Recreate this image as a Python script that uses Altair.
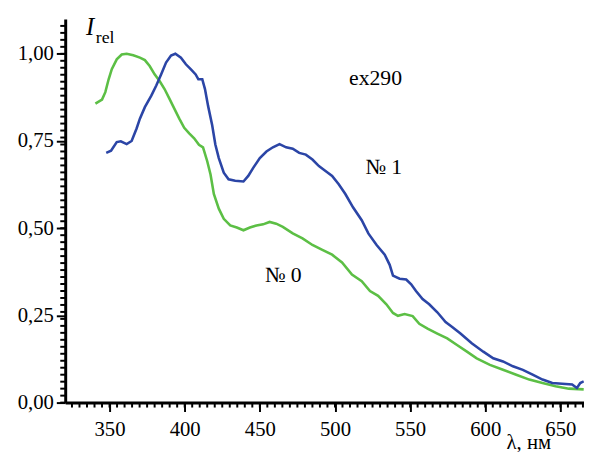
import altair as alt
import pandas as pd

# ---- data ----
blue_wl = [347.8, 351.0, 354.8, 357.5, 361.4, 364.7, 368.0, 370.2, 373.5, 377.8,
           381.1, 384.3, 387.6, 390.9, 393.8, 397.5, 400.8, 404.0, 407.3, 409.1,
           411.7, 413.5, 415.6, 418.3, 420.4, 422.7, 426.0, 429.2, 433.6, 439.1,
           442.3, 445.6, 450.0, 454.4, 458.7, 463.1, 467.5, 471.9, 476.2, 480.6,
           485.0, 489.3, 493.7, 498.1, 502.5, 506.9, 512.0, 517.8, 522.2, 527.7,
           533.1, 536.4, 538.6, 543.0, 547.4, 550.7, 553.9, 558.3, 562.7, 568.1,
           573.6, 578.0, 583.5, 591.0, 598.7, 605.3, 611.8, 618.4, 625.0, 631.5,
           638.1, 644.6, 651.2, 657.8, 661.0, 663.2, 665.5]
blue_i = [0.716, 0.722, 0.747, 0.749, 0.741, 0.750, 0.786, 0.814, 0.847, 0.880,
          0.909, 0.941, 0.975, 0.995, 1.000, 0.989, 0.970, 0.956, 0.941, 0.927,
          0.927, 0.899, 0.850, 0.795, 0.740, 0.701, 0.659, 0.640, 0.636, 0.634,
          0.650, 0.673, 0.701, 0.720, 0.732, 0.741, 0.732, 0.728, 0.716, 0.711,
          0.697, 0.678, 0.664, 0.650, 0.626, 0.598, 0.560, 0.523, 0.485, 0.452,
          0.424, 0.395, 0.364, 0.355, 0.353, 0.339, 0.320, 0.297, 0.282, 0.259,
          0.231, 0.217, 0.198, 0.170, 0.146, 0.127, 0.118, 0.104, 0.094, 0.080,
          0.066, 0.056, 0.054, 0.052, 0.042, 0.056, 0.061]

green_wl = [340.6, 345.0, 347.2, 349.4, 351.5, 354.8, 358.1, 361.4, 365.8, 370.2,
            373.5, 376.7, 380.0, 383.3, 386.6, 389.9, 393.1, 396.4, 399.7, 403.0,
            406.3, 409.5, 412.2, 415.0, 417.2, 419.4, 422.7, 426.0, 430.3, 434.7,
            439.1, 443.4, 447.8, 452.2, 456.5, 460.9, 465.3, 471.9, 478.4, 485.0,
            491.6, 498.1, 504.7, 511.3, 517.8, 523.3, 528.7, 534.2, 538.6, 541.9,
            546.3, 551.7, 556.1, 561.6, 568.1, 574.7, 581.2, 587.8, 594.3, 603.1,
            611.8, 620.6, 629.3, 638.1, 646.8, 655.6, 665.5]
green_i = [0.857, 0.869, 0.890, 0.927, 0.956, 0.984, 0.998, 1.000, 0.996, 0.989,
           0.982, 0.965, 0.941, 0.922, 0.899, 0.871, 0.843, 0.814, 0.788, 0.772,
           0.758, 0.739, 0.732, 0.692, 0.654, 0.598, 0.556, 0.527, 0.508, 0.502,
           0.494, 0.502, 0.508, 0.511, 0.518, 0.513, 0.504, 0.485, 0.471, 0.452,
           0.438, 0.424, 0.402, 0.367, 0.348, 0.320, 0.306, 0.282, 0.257, 0.249,
           0.254, 0.248, 0.226, 0.212, 0.198, 0.184, 0.165, 0.146, 0.127, 0.108,
           0.094, 0.080, 0.066, 0.056, 0.047, 0.040, 0.038]

series_names = ["№ 0", "№ 1"]
series_colors = ["#5cbf45", "#2b45a6"]

x_major = [350, 400, 450, 500, 550, 600, 650]
y_major = [0.0, 0.25, 0.5, 0.75, 1.0]
x_minor = list(range(325, 666, 5))
y_minor = [round(0.02 * k, 2) for k in range(0, 55)]

annot_text = ["ex290", "№ 1", "№ 0"]
annot_wl = [527.0, 532.4, 465.5]
annot_i = [0.91, 0.655, 0.345]

X_DOMAIN = [320.5, 665.7]
Y_DOMAIN = [0.0, 1.1]
W, H = 526, 389
FONT = "Liberation Serif"

df = pd.concat([
    pd.DataFrame({"wl": green_wl, "I": green_i, "s": series_names[0]}),
    pd.DataFrame({"wl": blue_wl, "I": blue_i, "s": series_names[1]}),
])

xs = alt.Scale(domain=X_DOMAIN, nice=False, zero=False)
ys = alt.Scale(domain=Y_DOMAIN, nice=False, zero=False)

lines = alt.Chart(df).mark_line(strokeWidth=2.6, interpolate="linear").encode(
    x=alt.X("wl:Q", scale=xs, axis=alt.Axis(values=x_major, title=None, labelPadding=7)),
    y=alt.Y("I:Q", scale=ys, axis=alt.Axis(
        values=y_major, title=None, labelPadding=3,
        labelExpr="replace(format(datum.value, '.2f'), '.', ',')")),
    color=alt.Color("s:N", scale=alt.Scale(domain=series_names, range=series_colors), legend=None),
    detail="s:N",
)

xminor = alt.Chart(pd.DataFrame({"v": x_minor})).mark_rule(
    color="black", strokeWidth=2).encode(
    x=alt.X("v:Q", scale=xs), y=alt.value(H), y2=alt.value(H + 5))

yminor = alt.Chart(pd.DataFrame({"v": y_minor})).mark_rule(
    color="black", strokeWidth=2).encode(
    y=alt.Y("v:Q", scale=ys), x=alt.value(0), x2=alt.value(-5))

annots = alt.Chart(pd.DataFrame({"t": annot_text, "wl": annot_wl, "I": annot_i})).mark_text(
    font=FONT, fontSize=22, color="black", align="center", baseline="alphabetic").encode(
    x=alt.X("wl:Q", scale=xs), y=alt.Y("I:Q", scale=ys), text="t:N")

ylab_I = alt.Chart(pd.DataFrame({"t": ["I"]})).mark_text(
    font=FONT, fontSize=25, fontStyle="italic", color="black", align="left",
    baseline="alphabetic").encode(x=alt.value(21), y=alt.value(16), text="t:N")
ylab_rel = alt.Chart(pd.DataFrame({"t": ["rel"]})).mark_text(
    font=FONT, fontSize=18, color="black", align="left",
    baseline="alphabetic").encode(x=alt.value(31), y=alt.value(24), text="t:N")
xlab = alt.Chart(pd.DataFrame({"t": ["λ, нм"]})).mark_text(
    font=FONT, fontSize=21, color="black", align="center",
    baseline="alphabetic").encode(x=alt.value(470), y=alt.value(436), text="t:N")

chart = alt.layer(lines, xminor, yminor, annots, ylab_I, ylab_rel, xlab).properties(
    width=W, height=H,
    autosize=alt.AutoSizeParams(type="none"),
    padding={"left": 58, "top": 8, "right": 0, "bottom": 47},
).configure_view(stroke=None).configure_axis(
    labelFont=FONT, labelFontSize=21, labelColor="black",
    domainColor="black", domainWidth=3, tickColor="black", tickWidth=2, tickSize=9,
    grid=False,
)

chart.save("out.html", embed_options={"renderer": "svg", "actions": False})
